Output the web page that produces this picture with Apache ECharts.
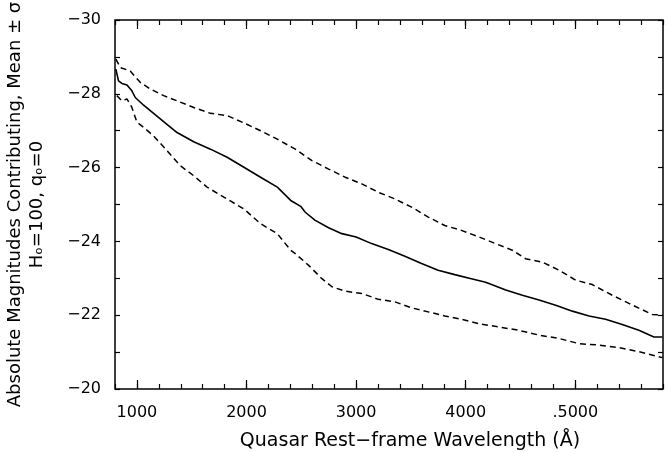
<!DOCTYPE html>
<html>
<head>
<meta charset="utf-8">
<script src="https://cdn.jsdelivr.net/npm/echarts@6/dist/echarts.min.js"></script>
<style>
  html, body { margin: 0; padding: 0; background: #fff; }
  #main { width: 669px; height: 453px; }
</style>
</head>
<body>
<div id="main"></div>
<script>
// mean curve
const meanWave = [808, 832, 863, 909, 954, 985, 1061, 1213, 1366, 1518, 1671, 1823, 1976, 2128, 2281, 2403, 2494,
  2536, 2627, 2749, 2870, 3000, 3142, 3294, 3445, 3597, 3748, 3900, 4051, 4173,
  4212, 4365, 4517, 4669, 4821, 4973, 5125, 5276, 5428, 5580, 5717, 5795];
const meanMag = [-28.67, -28.35, -28.28, -28.24, -28.08, -27.90, -27.69, -27.32, -26.95, -26.70, -26.50, -26.28, -26.01, -25.74, -25.47, -25.11, -24.95,
  -24.79, -24.57, -24.37, -24.21, -24.12, -23.94, -23.78, -23.60, -23.40, -23.22, -23.10, -22.99, -22.90,
  -22.86, -22.68, -22.54, -22.41, -22.27, -22.11, -21.98, -21.89, -21.75, -21.59, -21.41, -21.41];

// mean - sigma (upper dashed)
const upperWave = [808, 848, 939, 1030, 1122, 1244, 1366, 1518, 1671, 1823, 1976, 2128, 2281, 2445,
  2597, 2749, 2900, 3052, 3203, 3355, 3506, 3658, 3809, 3961, 4121,
  4273, 4425, 4547, 4699, 4851, 5003, 5155, 5337, 5489, 5702, 5795];
const upperMag = [-28.94, -28.71, -28.62, -28.31, -28.13, -27.95, -27.81, -27.63, -27.47, -27.41, -27.21, -27.00, -26.77, -26.50,
  -26.19, -25.96, -25.74, -25.56, -25.33, -25.15, -24.93, -24.66, -24.43, -24.30, -24.12,
  -23.94, -23.76, -23.53, -23.44, -23.22, -22.95, -22.83, -22.54, -22.32, -22.02, -22.00];

// mean + sigma (lower dashed)
const lowerWave = [817, 863, 909, 954, 1000, 1061, 1152, 1274, 1396, 1518, 1640, 1793, 1976, 2128, 2281, 2403, 2445,
  2567, 2688, 2779, 2900, 3052, 3203, 3355, 3506, 3658, 3809, 3961, 4121,
  4303, 4486, 4669, 4851, 5033, 5216, 5398, 5580, 5795];
const lowerMag = [-27.95, -27.81, -27.86, -27.63, -27.23, -27.09, -26.86, -26.46, -26.05, -25.78, -25.47, -25.20, -24.88, -24.48, -24.21, -23.76, -23.67,
  -23.35, -22.99, -22.77, -22.65, -22.59, -22.43, -22.36, -22.20, -22.09, -21.98, -21.89, -21.77,
  -21.68, -21.59, -21.46, -21.37, -21.23, -21.19, -21.12, -21.01, -20.85];

const majorTicks = [1000, 2000, 3000, 4000, 5000];
const xLabels = { 1000: '1000', 2000: '2000', 3000: '3000', 4000: '4000', 5000: '.5000' };

const font = 'DejaVu Sans';
const pairs = (xs, ys) => xs.map((x, i) => [x, ys[i]]);

const xBase = (pos) => ({
  type: 'value', position: pos, min: 800, max: 5800,
  axisLine: { show: false }, splitLine: { show: false }
});

const myChart = echarts.init(document.getElementById('main'));
myChart.setOption({
  animation: false,
  grid: {
    left: 115, right: 6, top: 20, bottom: 64,
    show: true, borderColor: '#000', borderWidth: 1.5,
    containLabel: false, outerBoundsMode: 'none'
  },
  xAxis: [
    {
      ...xBase('bottom'), interval: 200,
      axisTick: { inside: true, length: 5, lineStyle: { color: '#000', width: 1.2 } },
      axisLabel: {
        margin: 16, color: '#000', fontFamily: font, fontSize: 16,
        formatter: (v) => xLabels[v] || ''
      },
      name: 'Quasar Rest\u2212frame Wavelength (\u00c5)',
      nameLocation: 'middle', nameGap: 43,
      nameTextStyle: { color: '#000', fontFamily: font, fontSize: 19, padding: [0, 0, 0, 42] }
    },
    {
      ...xBase('bottom'),
      axisTick: { inside: true, length: 9, customValues: majorTicks, lineStyle: { color: '#000', width: 1.2 } },
      axisLabel: { show: false }
    },
    {
      ...xBase('top'), interval: 200,
      axisTick: { inside: true, length: 5, lineStyle: { color: '#000', width: 1.2 } },
      axisLabel: { show: false }
    },
    {
      ...xBase('top'),
      axisTick: { inside: true, length: 9, customValues: majorTicks, lineStyle: { color: '#000', width: 1.2 } },
      axisLabel: { show: false }
    }
  ],
  yAxis: [
    {
      type: 'value', position: 'left', inverse: true, min: -30, max: -20, interval: 1,
      axisLine: { show: false }, splitLine: { show: false },
      axisTick: { inside: true, length: 5, lineStyle: { color: '#000', width: 1.2 } },
      axisLabel: {
        margin: 14, color: '#000', fontFamily: font, fontSize: 16,
        formatter: (v) => (v % 2 === 0 ? String(v).replace('-', '\u2212') : '')
      },
      name: 'Absolute Magnitudes Contributing, Mean \u00b1 \u03c3\nH\u2092=100, q\u2092=0',
      nameLocation: 'middle', nameRotate: 90, nameGap: 67,
      nameTextStyle: { color: '#000', fontFamily: font, fontSize: 18, lineHeight: 22 }
    },
    {
      type: 'value', position: 'right', inverse: true, min: -30, max: -20, interval: 1,
      axisLine: { show: false }, splitLine: { show: false },
      axisTick: { inside: true, length: 5, lineStyle: { color: '#000', width: 1.2 } },
      axisLabel: { show: false }
    }
  ],
  series: [
    {
      name: 'mean', type: 'line', data: pairs(meanWave, meanMag),
      showSymbol: false, lineStyle: { color: '#000', width: 1.6 }
    },
    {
      name: 'mean - sigma', type: 'line', data: pairs(upperWave, upperMag),
      showSymbol: false, lineStyle: { color: '#000', width: 1.5, type: [6, 4] }
    },
    {
      name: 'mean + sigma', type: 'line', data: pairs(lowerWave, lowerMag),
      showSymbol: false, lineStyle: { color: '#000', width: 1.5, type: [6, 4] }
    }
  ]
});
</script>
</body>
</html>
